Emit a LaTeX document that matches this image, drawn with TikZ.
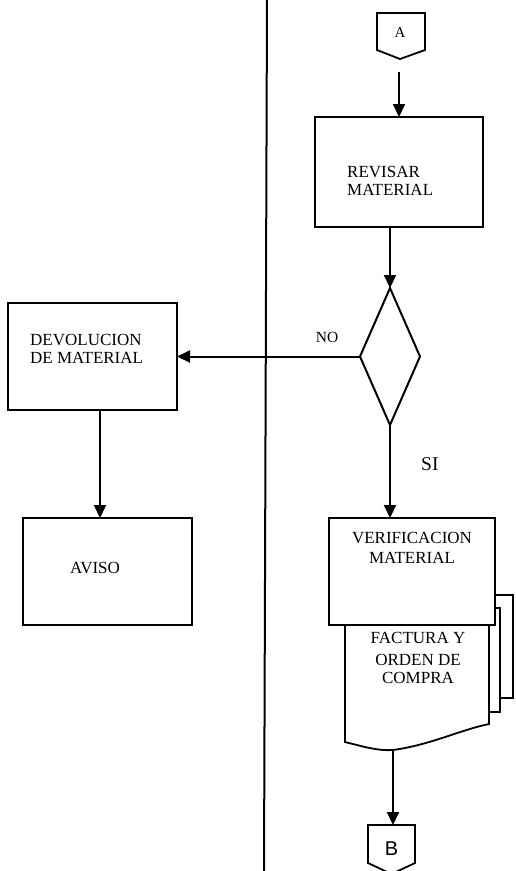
\documentclass[tikz,border=0pt]{standalone}
\usepackage{fontspec}
\setmainfont{Liberation Serif}
\newfontfamily\arialfont{Liberation Sans}
\usetikzlibrary{arrows.meta,shapes.geometric}
\begin{document}
\begin{tikzpicture}[x=1pt,y=-1pt,
  box/.style={draw, line width=2pt, fill=white, inner sep=0pt, outer sep=0pt, anchor=north west},
  page/.style={draw, line width=1.8pt, fill=white},
  arr/.style={line width=2pt, -{Triangle[length=13pt,width=12pt]}},
  txt/.style={font=\fontsize{17}{20}\selectfont, inner sep=0pt, anchor=base west},
  ctxt/.style={font=\fontsize{17}{20}\selectfont, inner sep=0pt, anchor=base}]
\useasboundingbox (0,0) rectangle (515,871);
\clip (0,0) rectangle (515,871);
\fill[white] (0,0) rectangle (515,871);

% divider
\coordinate (ltop) at (267,0);
\coordinate (lbot) at (264,871);
\draw[line width=2pt] (ltop) -- (lbot);

% connector A
\coordinate (Atip) at (400,59);
\draw[line width=1.8pt] (377,13) -- (425,13) -- (425,50) -- (Atip) -- (377,50) -- cycle;
\node (A) [font=\fontsize{15}{18}\selectfont, inner sep=0pt, anchor=base] at (400,37.5) {A};

% revisar
\node (rev) [box, minimum width=168pt, minimum height=110pt] at (315,117) {};
\node (t1a) [txt] at (347,177) {REVISAR};
\node (t1b) [txt] at (347,195) {MATERIAL};
\draw[arr, shorten <=13pt] (rev.north |- Atip) -- (rev.north);

% decision
\node (dec) [diamond, draw, line width=2pt, minimum width=60pt, minimum height=137pt, inner sep=0pt, outer sep=0pt] at (390,356.5) {};
\draw[arr] (rev.south -| dec.north) -- (dec.north);

% devolucion
\node (dev) [box, minimum width=169pt, minimum height=107pt] at (8,303) {};
\node (t2a) [txt] at (30,345) {DEVOLUCION};
\node (t2b) [txt] at (30,363) {DE MATERIAL};
\draw[arr] (dec.west) -- (dec.west -| dev.east);
\node (no) [font=\fontsize{15.5}{18}\selectfont, inner sep=0pt, anchor=base] at (327,342) {NO};

% aviso
\node (avi) [box, minimum width=169pt, minimum height=107pt] at (23,518) {};
\node (t3) [txt] at (70,573) {AVISO};
\coordinate (devb) at ([xshift=7.5pt]dev.south);
\draw[arr] (devb) -- (devb |- avi.north);

% documents
\draw[page] (360,595) rectangle (513,698);
\draw[page] (355,608) rectangle (500,712);
\draw[page] (345,600) -- (345,742) .. controls (365,747) and (378,751) .. (393,750)
  .. controls (430,745) and (460,730) .. (489,724) -- (489,600);
\coordinate (docb) at (393,750);

% verificacion
\node (ver) [box, minimum width=166pt, minimum height=107pt] at (329,518) {};
\draw[arr] (dec.south) -- (dec.south |- ver.north);
\node (si) [font=\fontsize{19.5}{22}\selectfont, inner sep=0pt, anchor=base west] at (421,470) {SI};
\node (t4a) [ctxt] at (412,543) {VERIFICACION};
\node (t4b) [ctxt] at (412,563) {MATERIAL};
\node (t5a) [ctxt] at (418,643) {FACTURA Y};
\node (t5b) [ctxt] at (418,665) {ORDEN DE};
\node (t5c) [ctxt] at (418,683) {COMPRA};

% connector B
\coordinate (Btop) at (391.5,825);
\draw[line width=1.8pt] (368,825) -- (415,825) -- (415,863) -- (391.5,874) -- (368,863) -- cycle;
\node (B) [font=\arialfont\fontsize{20}{23}\selectfont, inner sep=0pt, anchor=base] at (391.5,855) {B};
\draw[arr] (docb) -- (docb |- Btop);
\end{tikzpicture}
\end{document}
